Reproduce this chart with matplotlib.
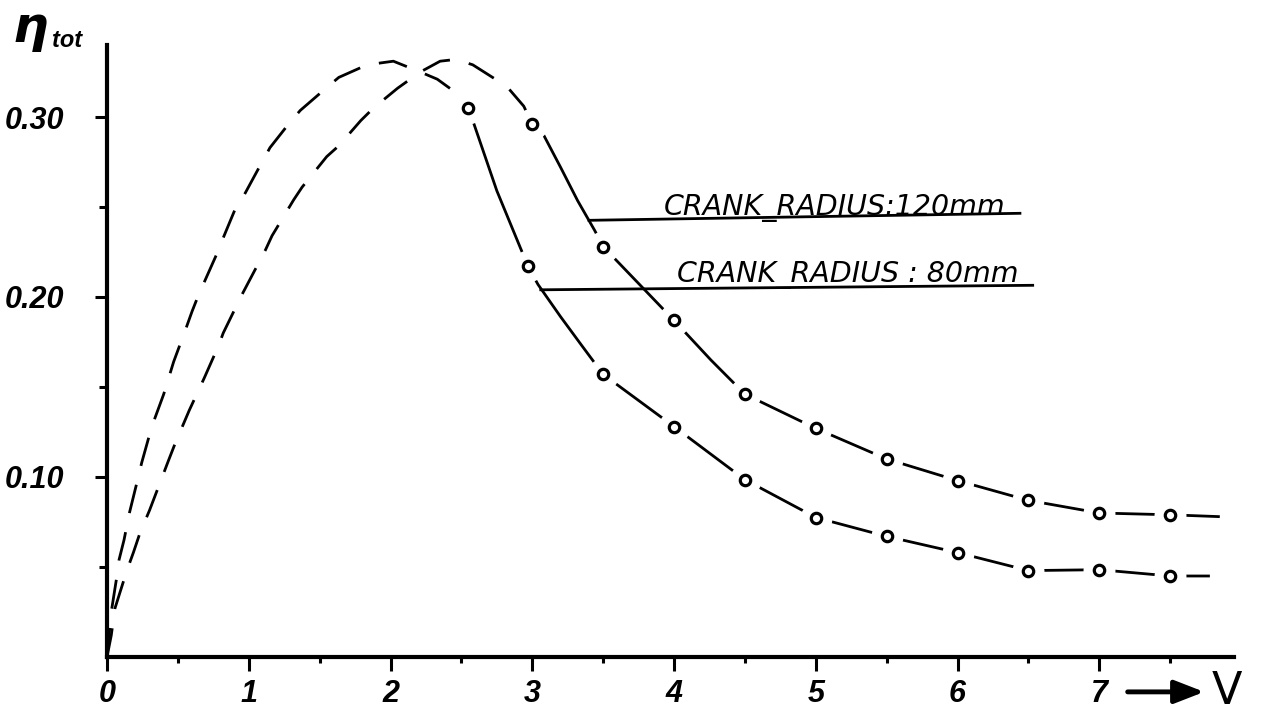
import matplotlib
matplotlib.use('Agg')
import matplotlib.pyplot as plt
from matplotlib.ticker import MultipleLocator, FixedLocator

# dashed branches, starting at the origin
dash_120_v = [0.0, 0.03, 0.056, 0.10, 0.14, 0.186, 0.233, 0.30, 0.346, 0.433, 0.48, 0.58, 0.686,
              0.787, 0.82, 0.95, 1.117, 1.164, 1.317, 1.376, 1.55, 1.635, 1.79, 1.88, 2.05, 2.21,
              2.35, 2.46, 2.58, 2.66, 2.82, 2.94, 3.0]
dash_120_eta = [0.0, 0.012, 0.027, 0.038, 0.048, 0.058, 0.069, 0.0815, 0.091, 0.109, 0.1185, 0.137,
                0.155, 0.173, 0.180, 0.201, 0.226, 0.234, 0.254, 0.261, 0.278, 0.284, 0.298, 0.305,
                0.316, 0.325, 0.331, 0.332, 0.329, 0.325, 0.317, 0.306, 0.296]
dash_80_v = [0.0, 0.03, 0.068, 0.085, 0.12, 0.158, 0.205, 0.245, 0.316, 0.40, 0.47, 0.55, 0.60,
             0.645, 0.775, 0.81, 0.905, 0.963, 1.08, 1.15, 1.29, 1.364, 1.53, 1.635, 1.835, 2.02,
             2.21, 2.33, 2.47, 2.55]
dash_80_eta = [0.0, 0.025, 0.044, 0.054, 0.065, 0.080, 0.095, 0.108, 0.128, 0.146, 0.164, 0.181,
               0.192, 0.201, 0.224, 0.231, 0.249, 0.256, 0.273, 0.283, 0.297, 0.3037, 0.315, 0.322,
               0.329, 0.331, 0.325, 0.321, 0.313, 0.305]

# measured points
pts_120_v = [3.0, 3.5, 4.0, 4.5, 5.0, 5.5, 6.0, 6.5, 7.0, 7.5]
pts_120_eta = [0.296, 0.228, 0.187, 0.146, 0.127, 0.110, 0.098, 0.087, 0.080, 0.079]
pts_80_v = [2.55, 2.97, 3.5, 4.0, 4.5, 5.0, 5.5, 6.0, 6.5, 7.0, 7.5]
pts_80_eta = [0.305, 0.217, 0.157, 0.128, 0.0985, 0.0775, 0.067, 0.058, 0.048, 0.0485, 0.045]

# solid curves through the points
line_120_v = [3.0, 3.08, 3.2, 3.32, 3.44, 3.5, 4.0, 4.26, 4.5, 5.0, 5.5, 6.0, 6.5, 7.0, 7.5, 7.84]
line_120_eta = [0.296, 0.290, 0.272, 0.2535, 0.237, 0.228, 0.187, 0.165, 0.146, 0.127, 0.110,
                0.098, 0.087, 0.080, 0.079, 0.078]
line_80_v = [2.55, 2.75, 2.97, 3.04, 3.2, 3.34, 3.5, 4.0, 4.5, 5.0, 5.5, 6.0, 6.5, 7.0, 7.5, 7.77]
line_80_eta = [0.305, 0.259, 0.217, 0.207, 0.189, 0.174, 0.157, 0.128, 0.0985, 0.0775, 0.067,
               0.058, 0.048, 0.0485, 0.045, 0.045]

# leader lines for the labels
lead_120_v = [3.40, 6.44]
lead_120_eta = [0.2426, 0.2465]
lead_80_v = [3.06, 6.53]
lead_80_eta = [0.204, 0.2065]

x_major = [0, 1, 2, 3, 4, 5, 6, 7]
y_major = [0.10, 0.20, 0.30]
y_labels = ['0.10', '0.20', '0.30']

fig = plt.figure(figsize=(12.61, 7.13), dpi=100)
ax = fig.add_axes([107 / 1261, 56 / 713, 1127 / 1261, 612 / 713])
ax.set_xlim(0, 7.95)
ax.set_ylim(0, 0.34)

for s in ['top', 'right']:
    ax.spines[s].set_visible(False)
for s in ['left', 'bottom']:
    ax.spines[s].set_linewidth(3.0)

lw = 2.0
ax.plot(dash_120_v, dash_120_eta, color='black', lw=lw, dashes=(10.5, 7), zorder=2)
ax.plot(dash_80_v, dash_80_eta, color='black', lw=lw, dashes=(10.5, 7), zorder=2)
ax.plot(line_120_v, line_120_eta, color='black', lw=lw, zorder=2)
ax.plot(line_80_v, line_80_eta, color='black', lw=lw, zorder=2)
ax.plot(lead_120_v, lead_120_eta, color='black', lw=lw, zorder=2)
ax.plot(lead_80_v, lead_80_eta, color='black', lw=lw, zorder=2)

# white halo breaks the line round each point, then the open circle
for vv, ee in [(pts_120_v, pts_120_eta), (pts_80_v, pts_80_eta)]:
    ax.plot(vv, ee, ls='none', marker='o', ms=23, mfc='white', mec='white', mew=0, zorder=5)
    ax.plot(vv, ee, ls='none', marker='o', ms=7.5, mfc='white', mec='black', mew=2.3, zorder=6)

ax.text(3.93, 0.2454, 'CRANK_RADIUS:120mm', fontsize=20.5, style='italic',
        family='DejaVu Sans', ha='left', va='baseline')
ax.text(4.02, 0.2082, 'CRANK_RADIUS : 80mm', fontsize=20.5, style='italic',
        family='DejaVu Sans', ha='left', va='baseline')

tick_font = dict(family='Liberation Sans', weight='bold', style='italic', size=22)
ax.xaxis.set_major_locator(FixedLocator(x_major))
ax.xaxis.set_minor_locator(MultipleLocator(0.5))
ax.set_xticklabels([str(v) for v in x_major], fontdict=tick_font)
ax.yaxis.set_major_locator(FixedLocator(y_major))
ax.yaxis.set_minor_locator(FixedLocator([0.05, 0.15, 0.25]))
ax.set_yticklabels(y_labels, fontdict=tick_font)
ax.tick_params(axis='x', which='major', length=10, width=2.2, pad=6)
ax.tick_params(axis='x', which='minor', length=4.5, width=2.2)
ax.tick_params(axis='y', which='major', length=9, width=2.2, pad=22)
ax.tick_params(axis='y', which='minor', length=6, width=2.2)

# axis names
ax.annotate('', xy=(7.74, -0.057), xytext=(7.2, -0.057), xycoords=('data', 'axes fraction'),
            textcoords=('data', 'axes fraction'),
            arrowprops=dict(arrowstyle='-|>,head_length=0.9,head_width=0.35', lw=3.5,
                            color='black', mutation_scale=20, shrinkA=0, shrinkB=0),
            annotation_clip=False)
ax.text(7.90, -0.057, 'V', transform=ax.get_xaxis_transform(), fontsize=32,
        family='DejaVu Sans', ha='center', va='center')
fig.text(13 / 1261, 1 - 42 / 713, 'η', fontsize=36, style='italic', weight='bold',
         family='DejaVu Sans', ha='left', va='baseline')
fig.text(52 / 1261, 1 - 47 / 713, 'tot', fontsize=17, style='italic', weight='bold',
         family='Liberation Sans', ha='left', va='baseline')

fig.savefig('out.png', dpi=100)
